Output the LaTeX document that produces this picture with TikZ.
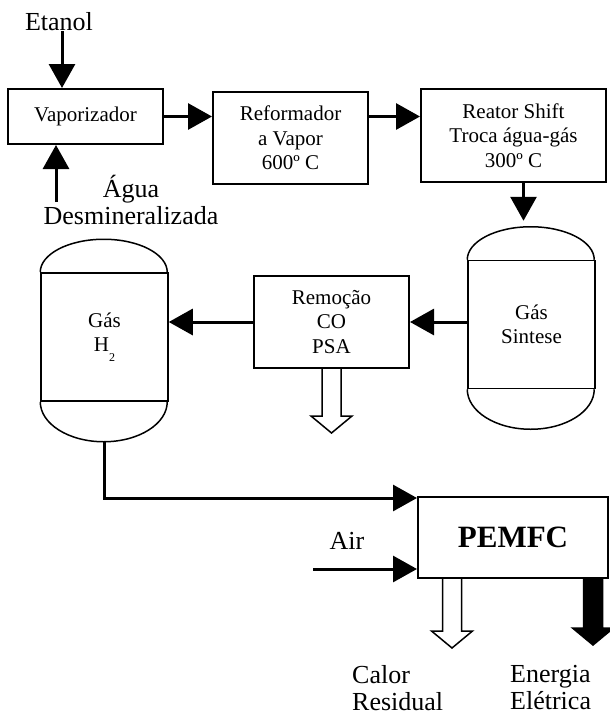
\documentclass[tikz,border=0pt]{standalone}
\usepackage{fontspec}
\setmainfont{Liberation Serif}
\usepackage{tikz}
\usetikzlibrary{arrows.meta,positioning,calc}

\begin{document}
\begin{tikzpicture}[
  x=1pt, y=-1pt,
  box/.style={draw, line width=2pt, inner sep=0pt, align=center, font=\fontsize{21}{24.5}\selectfont},
  tank/.style={draw, line width=1.5pt, inner sep=0pt, align=center, minimum width=127pt, minimum height=128pt, font=\fontsize{21}{24}\selectfont},
  lbl/.style={inner sep=1pt, font=\fontsize{26}{27}\selectfont},
  arr/.style={line width=3pt, -{Triangle[length=24pt, width=26pt]}},
  outflow/.pic={\path[pic actions] (-9.5,0) -- (-9.5,#1) -- (-20.5,#1) -- (0,{#1+17}) -- (20.5,#1) -- (9.5,#1) -- (9.5,0);}
]
  \useasboundingbox (0,0) rectangle (610,715);

  % linha de cima
  \node[box, minimum width=155pt, minimum height=55pt] (vap) at (85.5,116.5) {Vaporizador};
  \node[box, minimum width=155pt, minimum height=92pt] (ref) at (290.5,138) {Reformador\\a Vapor\\600º C};
  \node[box, minimum width=185pt, minimum height=93pt] (shift) at (513.5,135.5) {Reator Shift\\Troca água-gás\\300º C};

  \node[lbl, anchor=base] (eta) at (59,30) {Etanol};
  \node[lbl, align=center, anchor=north, inner sep=0pt] (agua) at (131,175) {Água\\Desmineralizada};
  \coordinate (aguain) at (56,202);

  % tanques e PSA
  \node[tank] (syn) at (531.5,324.5) {Gás\\Sintese};
  \node[box, minimum width=155pt, minimum height=92pt] (rem) at (331.5,322) {Remoção\\CO\\PSA};
  \node[tank] (h2) at (104.5,337) {Gás\\H\raisebox{-10pt}{\fontsize{12}{12}\selectfont 2}};
  \foreach \t in {h2, syn} {
    \draw[line width=1.5pt] (\t.north west) arc[start angle=180, end angle=0, x radius=63.5pt, y radius=33pt];
    \draw[line width=1.5pt] (\t.south west) arc[start angle=180, end angle=360, x radius=63.5pt, y radius=40pt];
  }
  \coordinate (syntop) at ($(syn.north)+(0,-39)$);
  \coordinate (h2out) at ($(h2.south)+(0,40)$);

  % celula
  \node[box, minimum width=190pt, minimum height=81pt, font=\fontsize{31}{31}\selectfont\bfseries] (pem) at (513,537.5) {PEMFC};
  \node[lbl, anchor=base] (air) at (347,549) {Air};
  \coordinate (airin) at (313,569);
  \node[lbl, align=left, anchor=north west, inner sep=0pt] (calor) at (352,665) {Calor\\Residual};
  \node[lbl, align=left, anchor=north west, inner sep=0pt] (ener) at (510,665) {Energia\\Elétrica};

  \draw[arr] ([xshift=3pt]eta.south) -- ([xshift=3pt]eta.south |- vap.north);
  \draw[arr] (aguain) -- (aguain |- vap.south);
  \draw[arr] (vap.east) -- (vap.east -| ref.west);
  \draw[arr] (ref.east |- vap.east) -- (vap.east -| shift.west);
  \draw[arr] ([xshift=10pt]shift.south) -- ([xshift=10pt]shift.south |- syntop);
  \draw[arr] (syn.west |- rem.east) -- (rem.east);
  \draw[arr] (rem.west) -- (rem.west -| h2.east);
  \draw[arr] (h2out) |- ([yshift=-2pt]pem.north west);
  \draw[arr] (airin) -- (airin -| pem.west);

  \pic[draw, line width=1.5pt] at (rem.south) {outflow=47};
  \pic[draw, line width=1.5pt] at ([xshift=-61pt]pem.south) {outflow=52};
  \pic[draw, fill=black, line width=1.5pt] at ([xshift=-16pt]pem.south east) {outflow=49};
\end{tikzpicture}
\end{document}
